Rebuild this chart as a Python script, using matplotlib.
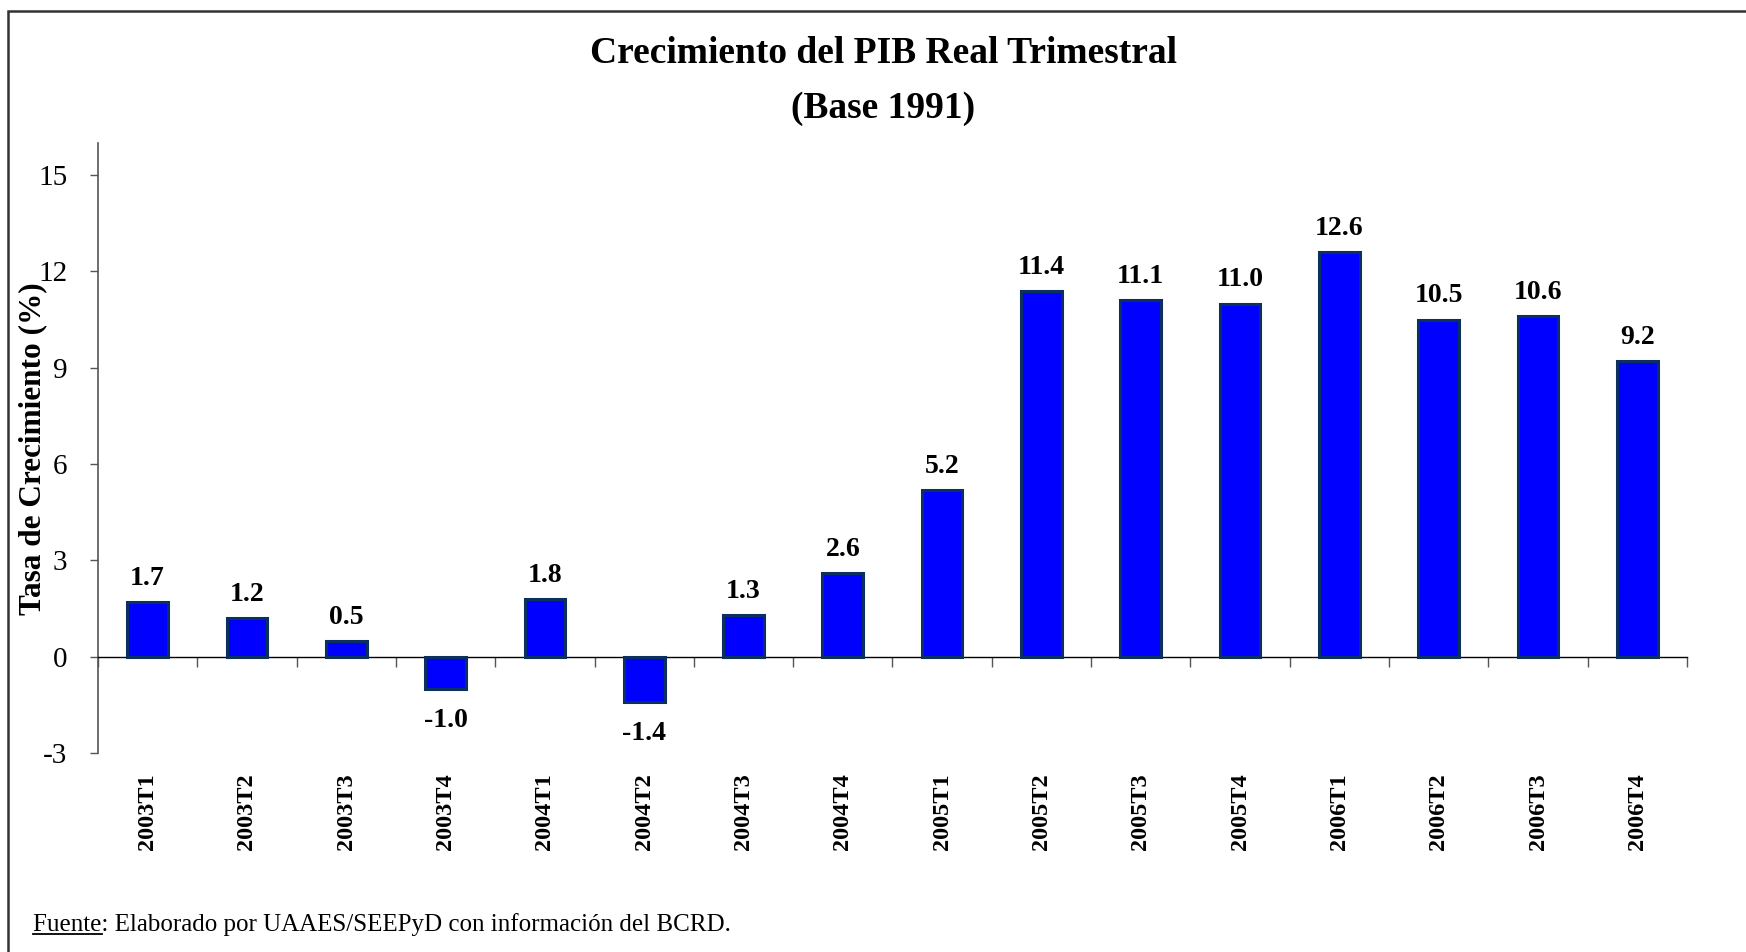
import matplotlib.pyplot as plt
from matplotlib.lines import Line2D
from matplotlib.patches import Rectangle
import numpy as np

# Data
quarters = ["2003T1", "2003T2", "2003T3", "2003T4", "2004T1", "2004T2", "2004T3", "2004T4",
            "2005T1", "2005T2", "2005T3", "2005T4", "2006T1", "2006T2", "2006T3", "2006T4"]
growth = [1.7, 1.2, 0.5, -1.0, 1.8, -1.4, 1.3, 2.6, 5.2, 11.4, 11.1, 11.0, 12.6, 10.5, 10.6, 9.2]
yticks = [-3, 0, 3, 6, 9, 12, 15]

plt.rcParams["font.family"] = ["Liberation Serif", "DejaVu Serif"]
plt.rcParams["axes.unicode_minus"] = False

fig = plt.figure(figsize=(17.46, 9.52), dpi=100)
ax = fig.add_axes([0.0561, 0.2090, 0.9101, 0.6408])

x = np.arange(len(quarters))
ax.bar(x, growth, width=0.41, color="#0000ff", edgecolor="#0b3060", linewidth=2.2, zorder=3)

# value labels
for xi, v in zip(x, growth):
    if v >= 0:
        ax.annotate(f"{v:.1f}", (xi, v), xytext=(0, 8), textcoords="offset points",
                    ha="center", va="bottom", fontsize=20, fontweight="bold")
    else:
        ax.annotate(f"{v:.1f}", (xi, v), xytext=(0, -14), textcoords="offset points",
                    ha="center", va="top", fontsize=20, fontweight="bold")

ax.set_xlim(-0.5, len(quarters) - 0.5)
ax.set_ylim(-3, 16)
ax.set_yticks(yticks)
ax.tick_params(axis="y", length=6, width=1, color="#555555", pad=16, labelsize=21)

# x axis drawn at zero, ticks between categories
ax.spines["bottom"].set_position(("data", 0))
ax.spines["bottom"].set_color("black")
ax.spines["bottom"].set_linewidth(1)
ax.set_xticks(np.arange(len(quarters) + 1) - 0.5)
ax.set_xticklabels([])
ax.tick_params(axis="x", which="major", direction="out", length=7, width=1, color="#555555")
ax.set_xticks(x, minor=True)
ax.set_xticklabels(quarters, minor=True, rotation=90, fontsize=17.5, fontweight="bold")
ax.tick_params(axis="x", which="minor", length=0, pad=84)

ax.spines["left"].set_color("#555555")
ax.spines["left"].set_linewidth(1.2)
for s in ["top", "right"]:
    ax.spines[s].set_visible(False)

fig.text(0.019, 0.529, "Tasa de Crecimiento (%)", rotation=90, ha="center", va="center",
         fontsize=22.5, fontweight="bold")

fig.text(0.506, 0.915, "Crecimiento del PIB Real Trimestral\n(Base 1991)", ha="center", va="center",
         fontsize=27, fontweight="bold", linespacing=1.75)

# footer with underlined "Fuente"
foot = fig.text(0.019, 0.029, "Fuente: Elaborado por UAAES/SEEPyD con información del BCRD.",
                ha="left", va="center", fontsize=18)
fig.canvas.draw()
r = fig.canvas.get_renderer()
tmp = fig.text(0.019, 0.029, "Fuente", ha="left", va="center", fontsize=18)
bb = tmp.get_window_extent(r)
tmp.remove()
W, H = fig.bbox.width, fig.bbox.height
fig.add_artist(Line2D([bb.x0 / W, bb.x1 / W], [(bb.y0 + 1) / H] * 2, color="black", lw=1.3))

# outer frame
fig.add_artist(Rectangle((8 / 1746, -0.05), 1.1, 1.05 - 11 / 952, transform=fig.transFigure,
                         fill=False, edgecolor="#333333", linewidth=1.8))

fig.savefig("out.png", dpi=100)
